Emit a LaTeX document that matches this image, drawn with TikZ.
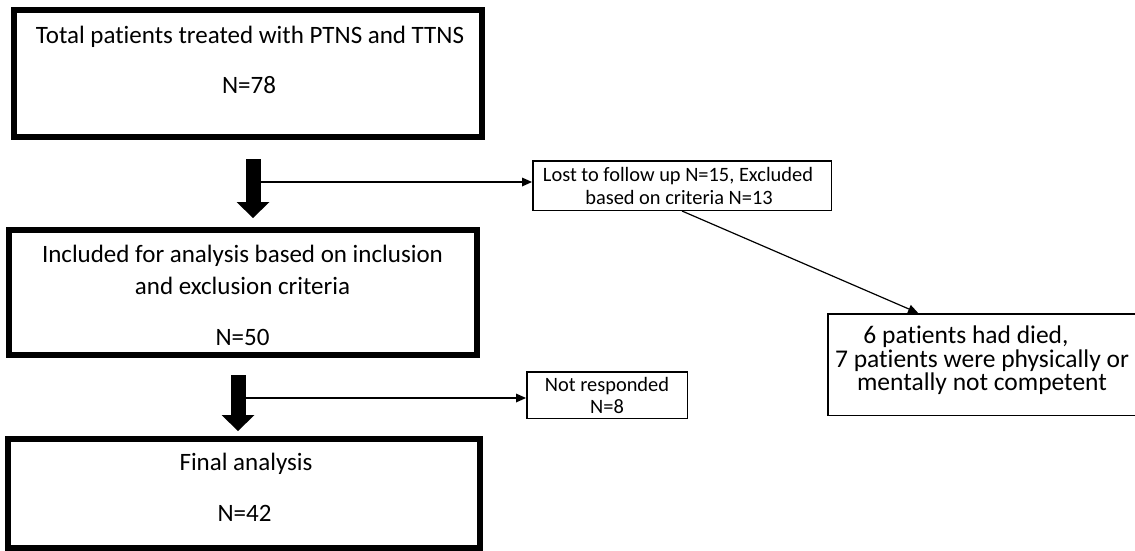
\documentclass[tikz,border=0pt]{standalone}
\usepackage{fontspec}
\setmainfont{Carlito}[Ligatures=NoCommon]
\usetikzlibrary{arrows.meta,calc}
\begin{document}
\begin{tikzpicture}[x=1pt,y=-1pt,
  bigbox/.style={draw=black,line width=6pt,inner sep=0pt,fill=white},
  smallbox/.style={draw=black,line width=1.5pt,inner sep=0pt,fill=white},
  bigtxt/.style={anchor=base,inner sep=0pt,font=\fontsize{25pt}{29pt}\selectfont},
  sidetxt/.style={anchor=base,inner sep=0pt,font=\fontsize{25.5pt}{29pt}\selectfont},
  smalltxt/.style={anchor=base,inner sep=0pt,font=\fontsize{20.4pt}{24pt}\selectfont},
  fatarrow/.style={line width=15pt,-{Triangle[length=16pt,width=33pt,line width=0pt]}},
  thinarrow/.style={line width=1.2pt,-{Triangle[length=10pt,width=9pt,line width=0pt]}}]
\fill[white] (0,0) rectangle (1135,551);
\useasboundingbox (0,0) rectangle (1135,551);

% main boxes
\node[bigbox,minimum width=468pt,minimum height=127pt] (b1) at (248,73.5) {};
\node[bigbox,minimum width=468pt,minimum height=125pt] (b2) at (243,292.5) {};
\node[bigbox,minimum width=472pt,minimum height=109pt] (b3) at (244,493.5) {};
% side boxes
\node[smallbox,minimum width=298.5pt,minimum height=49.5pt] (lost) at (682,185.5) {};
\node[smallbox,minimum width=160.5pt,minimum height=46.5pt] (nr) at (607,395) {};
\node[smallbox,minimum width=309pt,minimum height=101.5pt] (b6) at (982.4,364.5) {};

% texts
\node[bigtxt] (t1a) at (250,43.3) {Total patients treated with PTNS and TTNS};
\node[bigtxt] (t1b) at (249,93) {N=78};
\node[bigtxt] (t2a) at (242.5,262.7) {Included for analysis based on inclusion};
\node[bigtxt] (t2b) at (242.5,294) {and exclusion criteria};
\node[bigtxt] (t2c) at (242.5,345) {N=50};
\node[bigtxt] (t3a) at (246,470) {Final analysis};
\node[bigtxt] (t3b) at (244.5,521.7) {N=42};
\node[smalltxt] (tla) at (678,181.7) {Lost to follow up N=15, Excluded};
\node[smalltxt] (tlb) at (679,204) {based on criteria N=13};
\node[smalltxt] (tna) at (607,391) {Not responded};
\node[smalltxt] (tnb) at (607,413) {N=8};
\node[sidetxt] (t6a) at (966,343) {6 patients had died,};
\node[sidetxt] (t6b) at (982,367) {7 patients were physically or};
\node[sidetxt] (t6c) at (982,390) {mentally not competent};

% fat arrows
\coordinate (a1s) at (253,159);
\coordinate (a1e) at (253,218);
\coordinate (a2s) at (238,375);
\coordinate (a2e) at (238,431);
\draw[fatarrow] (a1s) -- (a1e);
\draw[fatarrow] (a2s) -- (a2e);

% side connectors
\coordinate (j1) at (253,182);
\coordinate (j2) at (238,398);
\draw[thinarrow] (j1) -- (j1 -| lost.west);
\draw[thinarrow] (j2) -- (j2 -| nr.west);
\coordinate (d6) at ([xshift=91pt]b6.north west);
\draw[thinarrow] (lost.south) -- (d6);
\end{tikzpicture}
\end{document}
